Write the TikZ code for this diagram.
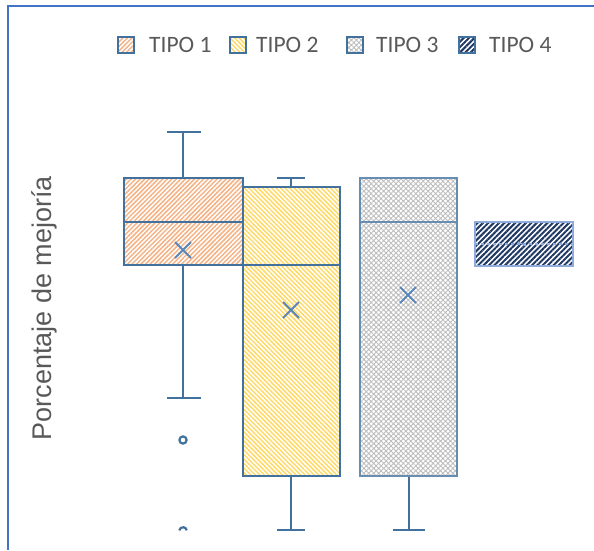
\documentclass[tikz,border=0pt]{standalone}
\usepackage{fontspec}
\setmainfont{Carlito}
\newfontfamily\labelfont{Liberation Sans}
\usetikzlibrary{patterns.meta}
\definecolor{boxline}{HTML}{41719C}
\definecolor{frameblue}{HTML}{4472C4}
\definecolor{txtgray}{HTML}{595959}
\definecolor{hatchorange}{HTML}{F4B183}
\definecolor{hatchyellow}{HTML}{FFD966}
\definecolor{hatchgray}{HTML}{BDBDBD}
\definecolor{hatchnavy}{HTML}{203864}
\definecolor{meanblue}{HTML}{5B87B8}
\definecolor{lightline}{HTML}{8FAADC}
\begin{document}
\begin{tikzpicture}[x=1pt,y=-1pt]
\useasboundingbox (0,0) rectangle (594,550);
\tikzset{
 boxpart/.style={draw=boxline, line width=1.8pt},
 t1fill/.style={pattern={Lines[angle=45,distance=3.2pt,line width=1.5pt]}, pattern color=hatchorange},
 t2fill/.style={pattern={Lines[angle=-45,distance=3.2pt,line width=1.5pt]}, pattern color=hatchyellow},
 t3fill/.style={pattern={Hatch[angle=45,distance=3.5pt,line width=0.9pt]}, pattern color=hatchgray},
 t4fill/.style={pattern={Lines[angle=45,distance=3.8pt,line width=2pt]}, pattern color=hatchnavy},
 whisk/.style={draw=boxline, line width=1.8pt},
 meanx/.style={draw=meanblue, line width=1.8pt},
 legtext/.style={text=txtgray, font=\fontsize{23.5}{26}\selectfont, anchor=west, inner sep=0pt},
 swatch/.style={draw=boxline, line width=1.2pt},
 outlier/.style={draw=boxline, line width=2.2pt},
 ylabel/.style={rotate=90, text=txtgray, font=\labelfont\fontsize{27}{30}\selectfont, inner sep=0pt}
}
% frame
\draw[frameblue, line width=1.5pt] (8,550) -- (8,6) -- (594,6);
% legend
\path[t1fill] (118,37) rectangle (134,53);
\draw[swatch] (118,37) rectangle (134,53);
\node[legtext] (l1) at (149,45) {TIPO 1};
\path[t2fill] (230,37) rectangle (246,53);
\draw[swatch] (230,37) rectangle (246,53);
\node[legtext] (l2) at (256,45) {TIPO 2};
\path[t3fill] (347,37) rectangle (363,53);
\draw[swatch] (347,37) rectangle (363,53);
\node[legtext] (l3) at (376,45) {TIPO 3};
\path[t4fill] (459,37) rectangle (475,53);
\draw[swatch] (459,37) rectangle (475,53);
\node[legtext] (l4) at (489,45) {TIPO 4};
% y label
\node[ylabel] (ylab) at (44,308) {Porcentaje de mejoría};
% box 1
\draw[whisk] (183,178) -- (183,132) (167,132) -- (201,132);
\draw[whisk] (183,265) -- (183,398) (167,398) -- (201,398);
\path[t1fill] (124,178) rectangle (243,265);
\draw[boxpart] (124,178) rectangle (243,265) (124,222) -- (243,222);
\draw[meanx] (175,242) -- (191,258) (175,258) -- (191,242);
\draw[outlier] (183,440) circle (3.6);
\draw[outlier] ([shift={(190:3.8)}]183,531) arc (190:350:3.8);
% box 2
\draw[whisk] (291,187) -- (291,178) (277,178) -- (305,178);
\draw[whisk] (291,476) -- (291,530) (277,530) -- (305,530);
\path[t2fill] (243,187) rectangle (340,476);
\draw[boxpart] (243,187) rectangle (340,476) (243,265) -- (340,265);
\draw[meanx] (283,302) -- (299,318) (283,318) -- (299,302);
% box 3
\draw[whisk] (409,476) -- (409,530) (393,530) -- (425,530);
\path[t3fill] (360,178) rectangle (457,476);
\draw[boxpart, draw=boxline!80] (360,178) rectangle (457,476) (360,222) -- (457,222);
\draw[meanx] (400,287) -- (416,303) (400,303) -- (416,287);
% box 4
\path[t4fill] (475,222) rectangle (573,266);
\draw[lightline, line width=1.2pt] (475,222) rectangle (573,266);
\draw[lightline, line width=1.2pt, dashed] (475,244) -- (573,244);
\draw[lightline, line width=1.2pt] (518,242) -- (526,246);
\end{tikzpicture}
\end{document}
